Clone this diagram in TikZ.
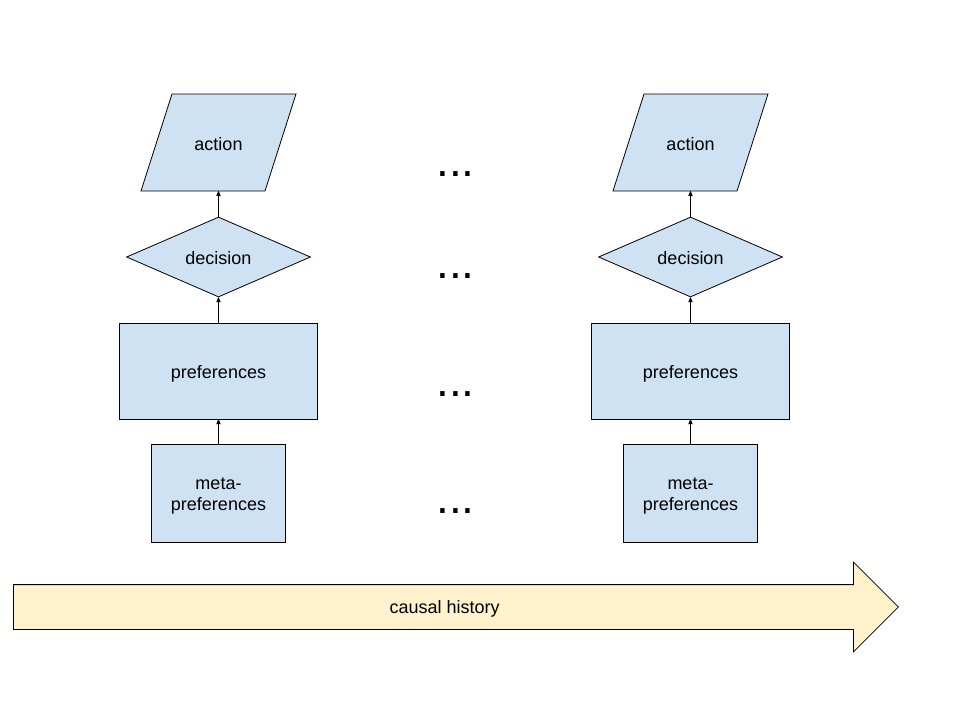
\documentclass[tikz,border=0pt]{standalone}
\usepackage{fontspec}
\setmainfont{Liberation Sans}
\usetikzlibrary{arrows,shapes,shapes.geometric,shapes.arrows,positioning}
\definecolor{boxblue}{HTML}{CFE2F3}
\definecolor{histyellow}{HTML}{FFF2CC}
\tikzset{
    stage/.style={
        draw=black,
        line width=0.8pt,
        fill=boxblue,
        inner sep=0pt,
        align=center,
        text height=15.5pt,
        text depth=0pt,
        font=\fontsize{18}{21}\selectfont,
    },
    act/.style={
        rectangle,
        inner sep=0pt,
        text height=15.5pt,
        text depth=0pt,
        font=\fontsize{18}{21}\selectfont,
        minimum width=125pt,
        minimum height=97pt,
    },
    choice/.style={
        stage,
        diamond,
        aspect=2.3,
        minimum width=184pt,
        minimum height=80pt,
    },
    pref/.style={
        stage,
        rectangle,
        minimum width=198pt,
        minimum height=96pt,
    },
    meta/.style={
        stage,
        rectangle,
        text height=34pt,
        minimum width=134pt,
        minimum height=98pt,
    },
    gap/.style={
        anchor=base,
        inner sep=0pt,
        font=\fontsize{46}{46}\selectfont,
    },
    history/.style={
        single arrow,
        anchor=tail,
        draw=black,
        line width=0.8pt,
        fill=histyellow,
        text height=15pt,
        text depth=2pt,
        inner xsep=0pt,
        inner ysep=13.5pt,
        minimum height=885pt,
        minimum width=89pt,
        single arrow head extend=22.5pt,
        single arrow tip angle=90,
        font=\fontsize{18}{21}\selectfont,
    },
    every edge/.style={
        draw,
        ->,>=stealth',
        line width=0.8pt,
    },
}
\begin{document}
\begin{tikzpicture}[x=1pt,y=-1pt]
\useasboundingbox (0,0) rectangle (960,720);
% two time slices
\foreach \col/\x in {L/218.5,R/690.5} {
    \draw [stage] ({\x-46.5},94) -- ({\x+77.5},94) -- ({\x+46.5},191)
        -- ({\x-77.5},191) -- cycle;
    \node [act] (act\col) at (\x,142.5) {action};
    \node [choice] (dec\col) at (\x,257) {decision};
    \node [pref] (pref\col) at (\x,371) {preferences};
    \node [meta] (meta\col) at (\x,493) {meta-\\preferences};
    \draw (meta\col) edge (pref\col);
    \draw (pref\col) edge (dec\col);
    \draw (dec\col) edge (act\col);
}
% the slices in between
\node [gap] (gapA) at (455.5,176.5) {...};
\node [gap] (gapD) at (455.5,278) {...};
\node [gap] (gapP) at (455.5,396) {...};
\node [gap] (gapM) at (455.5,513) {...};
\node [history] (hist) at (13,607) {causal history};
\end{tikzpicture}
\end{document}
